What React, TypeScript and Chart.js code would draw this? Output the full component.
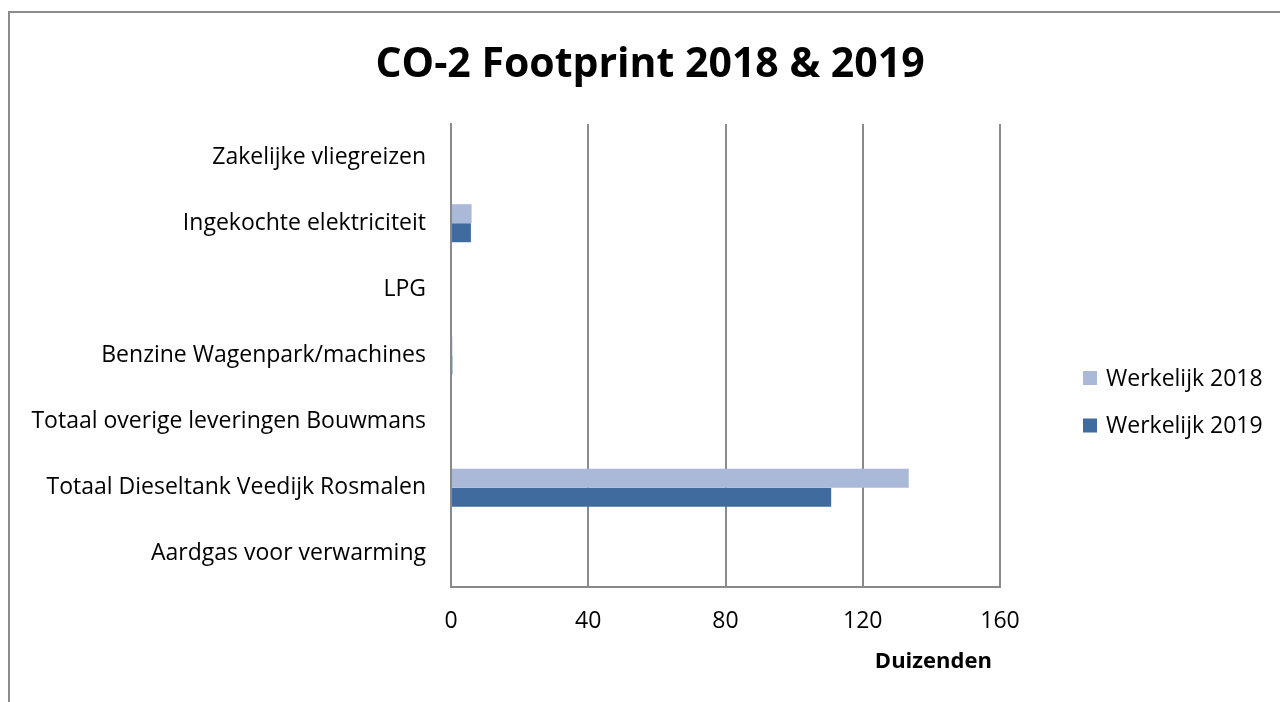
import React, { useEffect, useRef } from "react";
import { Chart, registerables } from "chart.js";

Chart.register(...registerables);

const categories = [
  "Zakelijke vliegreizen",
  "Ingekochte elektriciteit",
  "LPG",
  "Benzine Wagenpark/machines",
  "Totaal overige leveringen Bouwmans",
  "Totaal Dieseltank Veedijk Rosmalen",
  "Aardgas voor verwarming",
];
const seriesLabels = ["Werkelijk 2018", "Werkelijk 2019"];
const werkelijk2018 = [0, 6.0, 0, 0.4, 0, 133.4, 0];
const werkelijk2019 = [0, 5.8, 0, 0.4, 0, 110.8, 0];
const xTicks = [0, 40, 80, 120, 160];
const titleText = "CO-2 Footprint 2018 & 2019";
const axisTitle = "Duizenden";

const FONT = "'Open Sans', Lato, sans-serif";
const GRID = "#8a8a8a";

const framePlugin = {
  id: "frameAndTitle",
  beforeDraw(chart: any) {
    const ctx = chart.ctx;
    ctx.save();
    ctx.fillStyle = "#ffffff";
    ctx.fillRect(0, 0, chart.width, chart.height);
    ctx.strokeStyle = "#8c8c8c";
    ctx.lineWidth = 2;
    ctx.beginPath();
    ctx.moveTo(9, chart.height + 2);
    ctx.lineTo(9, 12);
    ctx.lineTo(chart.width + 2, 12);
    ctx.stroke();
    ctx.restore();
  },
  afterDraw(chart: any) {
    const ctx = chart.ctx;
    ctx.save();
    ctx.fillStyle = "#000000";
    ctx.font = `bold 41px ${FONT}`;
    ctx.textAlign = "center";
    ctx.textBaseline = "alphabetic";
    ctx.fillText(titleText, 650, 77);
    // axis title
    const xs = chart.scales.x;
    ctx.font = `bold 22px ${FONT}`;
    ctx.textBaseline = "middle";
    ctx.fillText(axisTitle, xs.getPixelForValue(140) + 2, 662);
    // legend
    const ds = chart.data.datasets;
    ctx.font = `23px ${FONT}`;
    ctx.textAlign = "left";
    ctx.textBaseline = "middle";
    const ys = [378, 425.5];
    ds.forEach((d: any, i: number) => {
      ctx.fillStyle = d.backgroundColor;
      ctx.fillRect(1083, ys[i] - 7, 14, 14);
      ctx.fillStyle = "#000000";
      ctx.fillText(d.label, 1106, ys[i] + 1);
    });
    ctx.restore();
  },
};

export default function App() {
  const ref = useRef<HTMLCanvasElement | null>(null);
  useEffect(() => {
    if (!ref.current) return;
    const chart = new Chart(ref.current, {
      type: "bar",
      data: {
        labels: categories,
        datasets: [
          {
            label: seriesLabels[0],
            data: werkelijk2018,
            backgroundColor: "#aab9d8",
            borderWidth: 0,
          },
          {
            label: seriesLabels[1],
            data: werkelijk2019,
            backgroundColor: "#406b9e",
            borderWidth: 0,
          },
        ],
      },
      options: {
        indexAxis: "y",
        responsive: false,
        animation: false,
        layout: { padding: { left: 20, top: 124, right: 280, bottom: 0 } },
        datasets: {
          bar: { categoryPercentage: 0.575, barPercentage: 1.0 },
        },
        plugins: {
          legend: { display: false },
          title: { display: false },
          tooltip: { enabled: false },
        },
        scales: {
          x: {
            min: 0,
            max: 160,
            afterBuildTicks(scale: any) {
              scale.ticks = xTicks.map((v) => ({ value: v }));
            },
            afterFit(scale: any) {
              scale.height = 115;
            },
            grid: {
              color: GRID,
              lineWidth: 2,
              drawTicks: false,
            },
            border: { display: true, color: GRID, width: 2 },
            ticks: {
              color: "#000000",
              font: { family: FONT, size: 23 },
              padding: 21,
              maxRotation: 0,
            },
            title: { display: false },
          },
          y: {
            afterFit(scale: any) {
              scale.width = 431;
            },
            grid: { display: false, drawTicks: false },
            border: { display: true, color: GRID, width: 2 },
            ticks: {
              color: "#000000",
              font: { family: FONT, size: 23 },
              padding: 25,
            },
          },
        },
      },
      plugins: [framePlugin],
    } as any);
    return () => chart.destroy();
  }, []);
  return (
    <div style={{ position: "absolute", left: 0, top: 0, width: 1280, height: 702 }}>
      <canvas ref={ref} width={1280} height={702} style={{ display: "block" }} />
    </div>
  );
}
